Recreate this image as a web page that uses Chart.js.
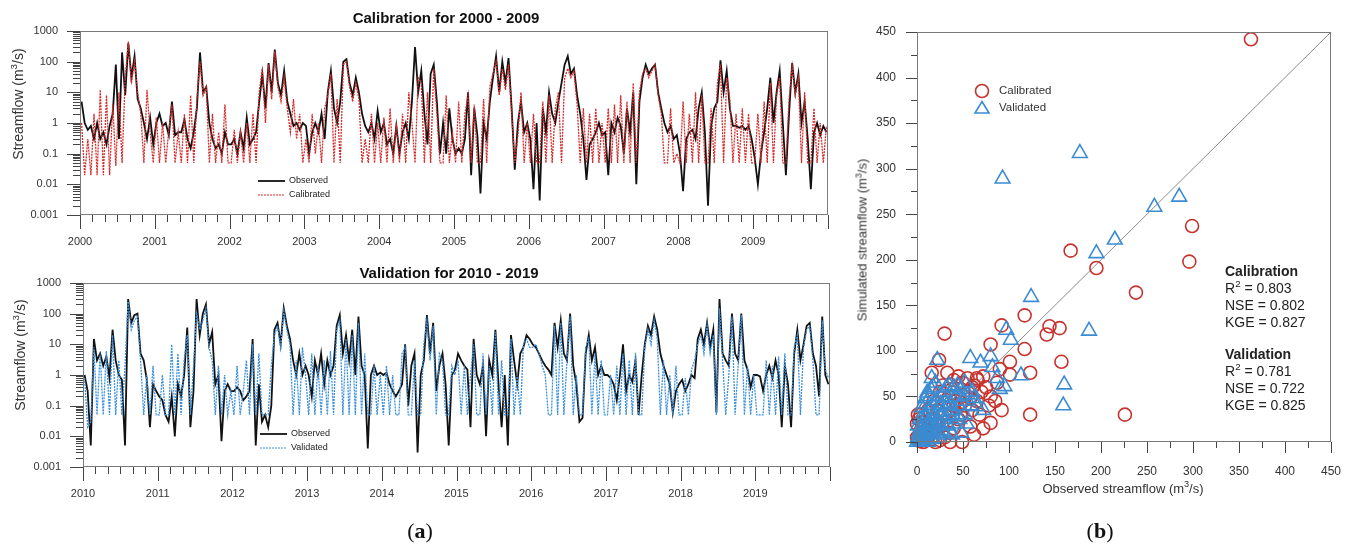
<!DOCTYPE html>
<html>
<head>
<meta charset="utf-8">
<script src="https://cdn.jsdelivr.net/npm/chart.js@4.4.1/dist/chart.umd.min.js"></script>
<style>
  body { margin: 0; background: #fff; width: 1352px; height: 547px; overflow: hidden; position: relative;
         font-family: Arial, "Liberation Sans", sans-serif; color: #222; }
  canvas { position: absolute; }
  .t { position: absolute; white-space: nowrap; transform: translate(-50%, -50%); }
  .rot { transform: translate(-50%, -50%) rotate(-90deg); }
  sup { font-size: 70%; vertical-align: super; line-height: 0; }
  .ttl { font-weight: bold; font-size: 15px; color: #111; }
  .ax { font-size: 14px; color: #333; }
  .stats { position: absolute; left: 1225px; top: 263px; font-size: 14px; line-height: 17px; color: #222; }
  .stats b { font-weight: bold; }
  .lab { font-family: "Liberation Serif", "DejaVu Serif", serif; font-size: 22px; color: #111; }
</style>
</head>
<body>
<canvas id="cal" width="850" height="258" style="left:0;top:0"></canvas>
<canvas id="val" width="850" height="262" style="left:0;top:258px"></canvas>
<canvas id="sc" width="502" height="520" style="left:850px;top:0"></canvas>

<div class="t ttl" style="left:446px;top:17px">Calibration for 2000 - 2009</div>
<div class="t ax rot" style="left:18px;top:104px">Streamflow (m<sup>3</sup>/s)</div>
<div class="t ttl" style="left:449px;top:272px">Validation for 2010 - 2019</div>
<div class="t ax rot" style="left:20px;top:355px">Streamflow (m<sup>3</sup>/s)</div>
<div class="t ax rot" style="left:862px;top:240px;font-size:13px">Simulated streamflow (m<sup>3</sup>/s)</div>
<div class="t ax" style="left:1123px;top:488px;font-size:13px">Observed streamflow (m<sup>3</sup>/s)</div>
<div class="stats">
  <b>Calibration</b><br>
  R<sup>2</sup> = 0.803<br>
  NSE = 0.802<br>
  KGE = 0.827<br>
  <div style="height:15px"></div>
  <b>Validation</b><br>
  R<sup>2</sup> = 0.781<br>
  NSE = 0.722<br>
  KGE = 0.825
</div>
<div class="t lab" style="left:420px;top:531px">(<b>a</b>)</div>
<div class="t lab" style="left:1100px;top:531px">(<b>b</b>)</div>

<script>
'use strict';

// ---- data: streamflow, two samples per month (m3/s) ----
const calStart = 2000;
const valStart = 2010;
const perYear = 24;

const obsCal = [
  5, 1.0, 0.6, 0.8, 0.3, 1.0, 0.3, 0.5, 0.2, 0.8, 2, 80, 0.3, 200, 8, 400, 30, 150, 6, 3, 1, 0.3, 1.5, 0.2,
  1, 2, 0.8, 1, 0.4, 5, 0.4, 0.5, 0.5, 1.3, 0.3, 0.15, 0.5, 3, 200, 10, 15, 1, 0.3, 0.15, 0.2, 0.1, 0.5, 0.2,
  0.2, 0.3, 0.1, 0.5, 0.15, 1.5, 0.2, 0.3, 0.5, 5, 40, 3, 90, 10, 250, 20, 8, 50, 5, 2, 0.8, 1, 0.6, 1,
  0.8, 0.1, 0.5, 1, 0.5, 2, 0.3, 10, 50, 3, 1, 5, 100, 120, 20, 8, 30, 10, 2, 0.8, 0.5, 1, 0.3, 2.5,
  0.5, 1, 0.2, 0.3, 0.1, 0.8, 0.1, 0.5, 1, 0.3, 5, 300, 10, 50, 2, 0.2, 40, 80, 5, 0.1, 1, 0.1, 3, 0.3,
  0.1, 0.15, 0.1, 0.3, 10, 0.02, 3, 0.4, 0.005, 1, 0.3, 5, 30, 150, 10, 100, 20, 130, 3, 0.03, 1, 5, 0.5, 1,
  0.3, 0.007, 1, 0.003, 3, 0.5, 10, 2, 1, 5, 20, 80, 150, 40, 60, 8, 2, 0.3, 0.014, 0.2, 0.3, 0.5, 1, 0.4,
  0.5, 0.02, 1, 0.5, 1.5, 0.8, 0.1, 3, 0.5, 10, 0.01, 5, 30, 80, 40, 60, 80, 10, 3, 1, 0.5, 0.8, 0.3, 0.4,
  0.1, 0.006, 0.3, 0.5, 0.6, 0.3, 3, 10, 0.5, 0.002, 0.8, 3, 5, 110, 10, 50, 3, 0.8, 0.8, 0.7, 0.8, 0.6, 0.8, 0.3,
  0.07, 0.01, 0.1, 0.5, 3, 30, 1, 10, 50, 1, 0.02, 2, 90, 10, 40, 1, 5, 0.3, 0.007, 0.5, 1, 0.4, 0.8, 0.5
];
const simCal = [
  1, 0.02, 0.3, 0.02, 2, 0.02, 12, 0.02, 8, 0.02, 4, 0.04, 10, 0.05, 30, 450, 20, 100, 10, 2, 0.05, 12, 0.5, 0.05,
  1.5, 0.05, 1, 0.05, 0.6, 4, 0.05, 0.5, 0.05, 2, 0.05, 8, 0.05, 6, 100, 8, 15, 0.05, 2, 0.05, 0.5, 0.05, 4, 0.05,
  0.05, 0.6, 0.05, 0.5, 0.05, 1, 0.05, 2, 0.05, 10, 60, 1, 80, 6, 220, 15, 5, 30, 3, 0.5, 6, 0.3, 2, 0.05,
  0.3, 0.05, 2, 0.1, 1, 0.05, 3, 8, 40, 0.05, 6, 0.05, 80, 100, 15, 5, 20, 6, 0.05, 0.3, 0.05, 2, 0.05, 1,
  0.05, 1.5, 0.05, 3, 0.05, 1, 0.05, 2, 0.05, 10, 1, 0.05, 30, 20, 0.05, 10, 0.05, 60, 2, 0.05, 0.05, 8, 0.05, 0.5,
  0.05, 5, 0.05, 2, 8, 0.05, 4, 0.05, 0.05, 6, 0.05, 15, 40, 100, 8, 60, 12, 80, 2, 0.05, 0.4, 10, 0.05, 1,
  0.05, 2, 0.05, 0.05, 5, 0.05, 8, 0.05, 3, 10, 0.05, 30, 60, 30, 50, 4, 0.05, 3, 0.05, 2, 0.05, 3, 0.05, 1,
  0.05, 3, 0.05, 4, 0.05, 8, 0.05, 5, 0.05, 20, 0.05, 10, 40, 60, 30, 50, 80, 8, 2, 0.05, 0.05, 3, 0.05, 0.1,
  0.05, 5, 0.05, 2, 0.05, 10, 0.05, 8, 0.05, 0.05, 3, 0.05, 20, 80, 0.05, 30, 6, 0.05, 2, 0.05, 3, 0.05, 2, 0.05,
  0.05, 2, 0.05, 5, 0.05, 20, 0.05, 8, 30, 0.05, 0.05, 6, 70, 8, 30, 0.05, 10, 0.05, 0.05, 3, 0.05, 1, 0.05, 0.8
];
const obsVal = [
  1, 0.3, 0.005, 15, 3, 5, 2, 4, 0.8, 30, 3, 1, 0.7, 0.005, 300, 50, 90, 100, 5, 3, 0.7, 0.02, 0.5, 0.3,
  0.2, 0.15, 0.05, 0.03, 0.2, 0.01, 0.5, 0.2, 1, 35, 0.02, 0.3, 300, 20, 100, 200, 10, 25, 0.5, 1, 0.007, 0.3, 0.5, 0.3,
  0.3, 0.4, 0.3, 0.15, 0.2, 0.3, 15, 0.005, 0.5, 0.03, 0.05, 0.02, 0.1, 30, 50, 10, 150, 40, 15, 3, 1, 5, 1, 2,
  1, 0.2, 3, 1, 5, 0.5, 3, 1, 2, 40, 90, 5, 20, 3, 30, 1, 80, 2, 1, 0.004, 1, 2, 1, 1.2,
  1, 1.2, 0.5, 0.3, 0.2, 0.3, 0.5, 10, 0.1, 2, 5, 0.003, 1, 3, 90, 5, 50, 0.3, 2, 5, 0.5, 0.005, 1, 1.5,
  5, 3, 2, 1.5, 0.02, 15, 1, 0.5, 2, 0.01, 3, 1, 30, 0.5, 0.02, 1, 0.005, 20, 3, 0.5, 5, 8, 20, 15,
  10, 8, 5, 3, 2, 1.5, 1, 50, 8, 60, 5, 3, 100, 2, 0.5, 0.03, 0.04, 5, 20, 3, 8, 1, 2, 1,
  1, 0.8, 0.5, 0.15, 1, 10, 0.3, 1, 0.6, 3, 0.05, 1, 10, 40, 20, 80, 30, 5, 2, 1, 0.5, 0.06, 0.3, 0.5,
  0.7, 0.3, 0.5, 1, 0.8, 15, 30, 10, 50, 8, 30, 0.06, 300, 5, 3, 2, 100, 5, 3, 100, 3, 1.5, 0.4, 1,
  1, 0.9, 0.3, 1, 2, 0.8, 3, 1, 0.02, 2, 0.5, 0.02, 5, 30, 3, 10, 40, 50, 5, 2, 0.2, 80, 1, 0.5
];
const simVal = [
  0.8, 0.02, 0.03, 8, 0.05, 5, 0.05, 6, 0.05, 20, 0.05, 3, 0.05, 2, 250, 30, 60, 80, 3, 0.05, 1, 0.05, 2, 0.05,
  0.05, 1, 0.05, 0.05, 10, 0.05, 5, 0.05, 3, 20, 0.05, 2, 100, 30, 60, 150, 8, 3, 0.05, 2, 0.05, 1, 0.05, 0.3,
  0.05, 2, 0.05, 0.3, 3, 0.05, 10, 0.05, 5, 0.05, 0.05, 0.05, 2, 20, 40, 8, 120, 30, 10, 0.05, 3, 0.05, 8, 1,
  0.05, 5, 0.05, 2, 0.05, 3, 0.05, 6, 0.05, 30, 60, 0.05, 15, 0.05, 20, 0.05, 50, 0.05, 5, 0.05, 0.05, 2, 0.05, 1,
  0.05, 2, 0.05, 1, 0.05, 0.05, 5, 8, 0.05, 0.05, 3, 0.05, 0.05, 10, 60, 3, 40, 0.05, 5, 3, 0.05, 0.05, 2, 1,
  3, 0.05, 2, 0.05, 1, 10, 0.05, 0.05, 5, 0.05, 2, 0.05, 25, 0.05, 3, 0.05, 0.05, 15, 0.05, 1, 0.05, 10, 15, 8,
  8, 10, 5, 2, 1, 0.05, 0.05, 40, 0.05, 50, 0.05, 3, 80, 0.05, 1, 0.05, 0.05, 8, 15, 0.05, 5, 0.05, 3, 0.05,
  0.05, 1, 0.05, 2, 0.05, 5, 0.05, 3, 0.05, 5, 0.05, 0.05, 8, 30, 10, 60, 15, 0.05, 3, 0.05, 1, 0.05, 2, 0.05,
  0.05, 0.8, 0.05, 1.5, 3, 10, 20, 5, 40, 5, 20, 0.05, 150, 3, 0.05, 1, 80, 0.05, 2, 90, 0.05, 2, 0.05, 1,
  0.05, 0.05, 0.05, 3, 0.05, 2, 0.05, 4, 0.05, 5, 0.05, 0.05, 8, 20, 0.05, 8, 30, 40, 3, 0.05, 0.05, 60, 1.5, 0.8
];

const logTicks = [0.001, 0.01, 0.1, 1, 10, 100, 1000];

// ---- data: scatter, observed vs simulated (m3/s) ----
const calObs = [363, 299, 296, 238, 226, 195, 167, 155, 157, 144, 141, 123, 123, 117, 117, 101, 101, 92, 92, 80, 80, 80,
  30, 24, 33, 16, 72, 58, 62, 49, 36, 87, 78, 70, 65, 60, 55, 50, 45, 40, 60, 52, 45, 40, 35, 30, 25, 20, 15, 10, 5, 2,
  1, 0, 3, 0, 8, 12, 18, 25, 28, 35, 42, 48, 55, 65, 75, 68, 72, 85, 90, 66, 40, 30, 20, 10, 5, 15, 22, 38, 50, 58, 62,
  44, 33, 27, 17, 12, 7, 3, 1, 6, 4, 9];
const calSim = [442, 237, 198, 164, 30, 191, 210, 125, 88, 127, 118, 76, 30, 139, 102, 88, 74, 128, 35, 107, 50, 21,
  119, 90, 76, 76, 72, 17, 8, 0, 0, 65, 40, 55, 45, 60, 70, 65, 72, 68, 35, 40, 25, 15, 10, 5, 2, 0, 3, 8, 15, 25,
  30, 20, 10, 5, 2, 35, 45, 55, 62, 50, 45, 30, 55, 70, 60, 30, 15, 45, 80, 68, 40, 30, 20, 12, 5, 25, 35, 58, 50, 48, 62,
  38, 22, 18, 12, 5, 0, 1, 3, 22, 30, 18];
const valObs = [93, 177, 258, 285, 215, 195, 124, 187, 97, 102, 160, 159, 113, 95, 87, 22, 58, 69, 80, 16, 11, 65, 72, 82, 90,
  0, 2, 4, 1, 3, 5, 6, 8, 10, 9, 12, 14, 11, 15, 18, 16, 20, 22, 19, 24, 26, 13, 17, 21, 25, 28, 30, 32, 35, 27, 30, 33,
  36, 38, 40, 42, 45, 48, 50, 52, 55, 40, 35, 20, 18, 14, 10, 8, 6, 4, 2, 7, 12, 16, 22, 28, 34, 40, 46, 30, 24, 10, 18,
  26, 44, 52, 60, 58, 48, 38, 5, 3, 1, 23, 32, 47, 54, 62, 15, 9];
const valSim = [289, 317, 258, 269, 222, 207, 159, 122, 123, 112, 63, 40, 73, 61, 70, 90, 92, 87, 94, 70, 54, 39, 35, 82, 58,
  0, 2, 1, 5, 8, 4, 10, 6, 3, 12, 9, 15, 20, 10, 14, 22, 18, 25, 30, 20, 28, 35, 40, 45, 38, 33, 25, 40, 30, 50, 55, 48,
  42, 35, 28, 50, 40, 58, 45, 30, 52, 60, 62, 65, 60, 50, 42, 30, 20, 15, 10, 2, 0, 4, 8, 12, 18, 20, 25, 10, 5, 28, 3,
  42, 62, 65, 55, 40, 10, 8, 38, 25, 18, 12, 60, 50, 20, 48, 58, 48];

const sTicks = [0, 50, 100, 150, 200, 250, 300, 350, 400, 450];

// ---- helpers ----
function toPoints(start, values) {
  return values.map((v, i) => ({ x: start + (i + 0.5) / perYear, y: v }));
}

function pairs(xs, ys) {
  return xs.map((x, i) => ({ x: x, y: ys[i] }));
}

// frame, outside tick marks and a small legend drawn over the plot
function decorations(xMarks, yMarks, legend) {
  return {
    id: 'decorations',
    afterDraw(chart) {
      const ctx = chart.ctx;
      const a = chart.chartArea;
      const xs = chart.scales.x, ys = chart.scales.y;
      ctx.save();
      ctx.strokeStyle = '#7a7a7a';
      ctx.lineWidth = 1;
      ctx.strokeRect(a.left + 0.5, a.top + 0.5, a.right - a.left - 1, a.bottom - a.top - 1);
      ctx.strokeStyle = '#444';
      ctx.beginPath();
      xMarks.forEach(([v, len]) => {
        const px = Math.round(xs.getPixelForValue(v)) + 0.5;
        ctx.moveTo(px, a.bottom);
        ctx.lineTo(px, a.bottom + len);
      });
      yMarks.forEach(([v, len]) => {
        const py = Math.round(ys.getPixelForValue(v)) + 0.5;
        ctx.moveTo(a.left, py);
        ctx.lineTo(a.left - len, py);
      });
      ctx.stroke();
      if (legend) legend(ctx);
      ctx.restore();
    }
  };
}

function yearMarks(start) {
  const m = [];
  for (let i = 0; i <= 60; i++) m.push([start + i / 6, i % 6 === 0 ? 14 : 7]);
  return m;
}

function logMarks() {
  const m = [];
  for (let d = -3; d <= 3; d++) {
    m.push([Math.pow(10, d), 13]);
    if (d < 3) for (let k = 2; k <= 9; k++) m.push([k * Math.pow(10, d), 7]);
  }
  return m;
}

function lineLegend(x, y, names, simColor) {
  return function (ctx) {
    ctx.font = '9px "Liberation Sans Narrow", Arial, sans-serif';
    ctx.fillStyle = '#222';
    ctx.textBaseline = 'middle';
    ctx.lineWidth = 1.8;
    ctx.strokeStyle = '#111';
    ctx.beginPath(); ctx.moveTo(x, y); ctx.lineTo(x + 27, y); ctx.stroke();
    ctx.fillText(names[0], x + 31, y);
    ctx.lineWidth = 1;
    ctx.strokeStyle = simColor;
    ctx.setLineDash([2, 1]);
    ctx.beginPath(); ctx.moveTo(x, y + 14); ctx.lineTo(x + 27, y + 14); ctx.stroke();
    ctx.setLineDash([]);
    ctx.fillText(names[1], x + 31, y + 14);
  };
}

function seriesChart(id, start, obs, sim, simName, simColor, area, legendPos) {
  const canvas = document.getElementById(id);
  const W = canvas.width, H = canvas.height;
  return new Chart(canvas.getContext('2d'), {
    type: 'line',
    data: {
      datasets: [{
        label: simName,
        data: toPoints(start, sim),
        borderColor: simColor,
        borderWidth: 1.3,
        borderDash: [2, 1],
        pointRadius: 0,
        order: 0
      }, {
        label: 'Observed',
        data: toPoints(start, obs),
        borderColor: '#111',
        borderWidth: 1.8,
        pointRadius: 0,
        order: 1
      }]
    },
    options: {
      responsive: false,
      animation: false,
      events: [],
      layout: { padding: { left: 0, top: area.top, right: W - area.right, bottom: 0 } },
      plugins: { legend: { display: false }, tooltip: { enabled: false } },
      scales: {
        x: {
          type: 'linear', min: start, max: start + 10,
          grid: { display: false }, border: { display: false },
          afterBuildTicks: s => { s.ticks = []; for (let i = 0; i < 10; i++) s.ticks.push({ value: start + i }); },
          afterFit: s => { s.height = H - area.bottom; },
          ticks: { padding: 12, maxRotation: 0, autoSkip: false, color: '#333', font: { size: 11, family: 'Arial' },
                   callback: v => String(v) }
        },
        y: {
          type: 'logarithmic', min: 0.001, max: 1000,
          grid: { display: false }, border: { display: false },
          afterBuildTicks: s => { s.ticks = logTicks.map(v => ({ value: v })); },
          afterFit: s => { s.width = area.left; },
          ticks: { padding: 14, color: '#333', font: { size: 11, family: 'Arial' }, callback: v => String(v) }
        }
      }
    },
    plugins: [decorations(yearMarks(start), logMarks(),
      lineLegend(legendPos[0], legendPos[1], ['Observed', simName], simColor))]
  });
}

seriesChart('cal', calStart, obsCal, simCal, 'Calibrated', '#d42a2a',
  { left: 80, top: 31, right: 828, bottom: 215 }, [258, 181]);
seriesChart('val', valStart, obsVal, simVal, 'Validated', '#3b90dc',
  { left: 83, top: 25, right: 830, bottom: 209 }, [260, 176]);

// ---- scatter ----
const redC = '#c8322d';
const blueC = '#3a8bd2';
const sMarks = [];
for (let v = 0; v <= 450; v += 25) sMarks.push([v, v % 50 === 0 ? 11 : 6]);

function scatterLegend(ctx) {
  ctx.strokeStyle = redC;
  ctx.lineWidth = 1.6;
  ctx.beginPath(); ctx.arc(132, 91, 6.5, 0, Math.PI * 2); ctx.stroke();
  ctx.strokeStyle = blueC;
  ctx.beginPath();
  ctx.moveTo(132, 101.5); ctx.lineTo(139, 113); ctx.lineTo(125, 113); ctx.closePath(); ctx.stroke();
  ctx.font = '11.5px Arial, sans-serif';
  ctx.fillStyle = '#333';
  ctx.textBaseline = 'middle';
  ctx.fillText('Calibrated', 149, 91);
  ctx.fillText('Validated', 149, 108);
}

const sc = document.getElementById('sc');
new Chart(sc.getContext('2d'), {
  type: 'scatter',
  data: {
    datasets: [{
      label: 'Validated',
      data: pairs(valObs, valSim),
      pointStyle: 'triangle', pointRadius: 8.5,
      borderColor: blueC, backgroundColor: 'rgba(0,0,0,0)', borderWidth: 1.6,
      clip: false, order: 0
    }, {
      label: 'Calibrated',
      data: pairs(calObs, calSim),
      pointStyle: 'circle', pointRadius: 6.5,
      borderColor: redC, backgroundColor: 'rgba(0,0,0,0)', borderWidth: 1.6,
      clip: false, order: 1
    }, {
      label: '1:1',
      data: [{ x: 0, y: 0 }, { x: 450, y: 450 }],
      showLine: true, pointRadius: 0, borderColor: '#8a8a8a', borderWidth: 1,
      order: 2
    }]
  },
  options: {
    responsive: false,
    animation: false,
    events: [],
    layout: { padding: { left: 0, top: 32, right: 21, bottom: 0 } },
    plugins: { legend: { display: false }, tooltip: { enabled: false } },
    scales: {
      x: {
        type: 'linear', min: 0, max: 450,
        grid: { display: false }, border: { display: false },
        afterBuildTicks: s => { s.ticks = sTicks.map(v => ({ value: v })); },
        afterFit: s => { s.height = 520 - 442; s.paddingLeft = 0; s.paddingRight = 0; },
        ticks: { padding: 14, maxRotation: 0, color: '#333', font: { size: 12, family: 'Arial' } }
      },
      y: {
        type: 'linear', min: 0, max: 450,
        grid: { display: false }, border: { display: false },
        afterBuildTicks: s => { s.ticks = sTicks.map(v => ({ value: v })); },
        afterFit: s => { s.width = 67; },
        ticks: { padding: 13, color: '#333', font: { size: 12, family: 'Arial' } }
      }
    }
  },
  plugins: [decorations(sMarks, sMarks, scatterLegend)]
});
</script>
</body>
</html>
